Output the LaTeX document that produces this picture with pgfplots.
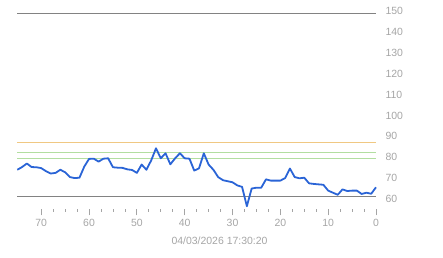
\documentclass[border=0pt]{standalone}
\usepackage{fontspec}
\setmainfont{Liberation Sans}
\usepackage{pgfplots}
\pgfplotsset{compat=1.18}
\definecolor{lblue}{RGB}{42,100,214}
\definecolor{lorange}{RGB}{240,200,130}
\definecolor{lgreen}{RGB}{178,222,160}
\definecolor{lgray}{RGB}{130,130,130}
\definecolor{tgray}{RGB}{165,165,165}
\begin{document}
\begin{tikzpicture}
\useasboundingbox (0,0) rectangle (443bp,258bp);
\begin{axis}[
  at={(17.3bp,48.6bp)}, anchor=south west,
  scale only axis, width=358.7bp, height=198.2bp,
  xmin=0, xmax=75, x dir=reverse,
  ymin=55, ymax=150,
  axis line style={draw=none},
  xtick pos=bottom,
  xtick={0,10,...,70}, minor x tick num=3,
  ytick={60,70,...,150},
  yticklabel pos=right,
  ytick style={draw=none},
  xtick style={color=tgray, line width=0.8pt},
  tick align=outside,
  major tick length=6bp, minor tick length=2.5bp,
  /pgf/number format/assume math mode=true,
  ticklabel style={font=\fontsize{10.5}{12}\selectfont, text=tgray},
  yticklabel style={anchor=west, xshift=0bp},
  xticklabel style={yshift=0bp},
  clip=false,
]
\addplot[lgray, line width=1.1pt, forget plot] coordinates {(0,148.7) (75,148.7)};
\addplot[lgray, line width=1.1pt, forget plot] coordinates {(0,61) (75,61)};
\addplot[lorange, line width=1pt, forget plot] coordinates {(0,87.2) (75,87.2)};
\addplot[lgreen, line width=1pt, forget plot] coordinates {(0,82.5) (75,82.5)};
\addplot[lgreen, line width=1pt, forget plot] coordinates {(0,79.6) (75,79.6)};
\addplot[lblue, line width=1.8pt, line join=round] table {
x y
75 74.0
74 75.3
73 77.0
72 75.3
71 75.2
70 74.8
69 73.3
68 72.2
67 72.5
66 74.0
65 72.8
64 70.5
63 70.0
62 70.2
61 75.5
60 79.2
59 79.3
58 77.9
57 79.3
56 79.5
55 75.2
54 75.0
53 74.9
52 74.2
51 73.9
50 72.5
49 76.5
48 74.0
47 78.5
46 84.3
45 79.5
44 81.9
43 76.6
42 79.5
41 81.9
40 79.5
39 79.3
38 73.6
37 74.7
36 81.9
35 76.5
34 74.0
33 70.5
32 69.0
31 68.5
30 68.0
29 66.5
28 65.8
27 56.5
26 65.0
25 65.4
24 65.4
23 69.4
22 68.8
21 68.8
20 68.8
19 70.0
18 74.6
17 70.5
16 69.9
15 70.2
14 67.5
13 67.2
12 67.0
11 66.8
10 64.0
9 63.0
8 62.0
7 64.6
6 63.8
5 64.0
4 64.0
3 62.4
2 63.0
1 62.5
0 65.6
};
\end{axis}
\node[text=tgray, font=\fontsize{10.5}{12}\selectfont] at (219.5bp,17.3bp) {04/03/2026 17:30:20};
\end{tikzpicture}
\end{document}
